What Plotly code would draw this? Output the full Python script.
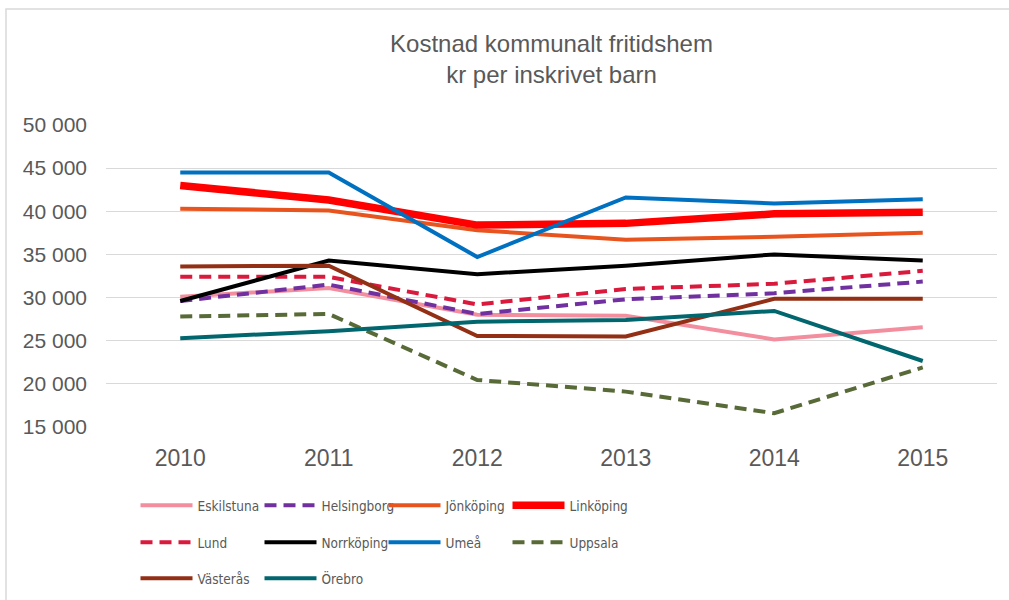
import plotly.graph_objects as go

# data
years = ["2010", "2011", "2012", "2013", "2014", "2015"]

eskilstuna = [30100, 31100, 28000, 27900, 25150, 26550]
helsingborg = [29600, 31500, 28100, 29800, 30500, 31850]
jonkoping = [40300, 40100, 37800, 36700, 37050, 37500]
linkoping = [43000, 41300, 38400, 38600, 39700, 39900]
lund = [32400, 32400, 29200, 31000, 31600, 33100]
norrkoping = [29600, 34300, 32700, 33700, 35000, 34300]
umea = [44500, 44500, 34700, 41600, 40900, 41400]
uppsala = [27800, 28100, 20450, 19100, 16600, 21900]
vasteras = [33600, 33700, 25550, 25500, 29850, 29850]
orebro = [25300, 26100, 27200, 27400, 28450, 22650]

# name, values, colour, width, dash, legend row
series = [
    ("Eskilstuna", eskilstuna, "#F28E9E", 4, "solid", "legend"),
    ("Helsingborg", helsingborg, "#7030A0", 4, "12px,7px", "legend"),
    ("Jönköping", jonkoping, "#E8541E", 4, "solid", "legend"),
    ("Linköping", linkoping, "#FF0000", 7.5, "solid", "legend"),
    ("Lund", lund, "#D91A3D", 4, "12px,7px", "legend2"),
    ("Norrköping", norrkoping, "#000000", 4, "solid", "legend2"),
    ("Umeå", umea, "#0070C0", 4, "solid", "legend2"),
    ("Uppsala", uppsala, "#586A37", 4, "12px,7px", "legend2"),
    ("Västerås", vasteras, "#922F14", 4, "solid", "legend3"),
    ("Örebro", orebro, "#02666E", 4, "solid", "legend3"),
]

FONT = "Liberation Sans, Arial, sans-serif"
NARROW = "Liberation Sans Narrow, DejaVu Sans Condensed, Arial Narrow, sans-serif"
GREY = "#595959"

fig = go.Figure()
for name, vals, color, width, dash, leg in series:
    fig.add_trace(go.Scatter(
        x=years, y=vals, name=name, mode="lines",
        line=dict(color=color, width=width, dash=dash),
        legend=leg, hoverinfo="skip",
    ))

L, R, T, B = 106, 12, 125, 173
W, H = 1009, 600
pw, ph = W - L - R, H - T - B


def px_x(px):
    return (px - L) / pw


def px_y(py):
    return (H - B - py) / ph


legend_common = dict(
    orientation="h", xanchor="left", yanchor="middle",
    entrywidth=57, entrywidthmode="pixels", itemwidth=52,
    font=dict(family=NARROW, size=13.5, color=GREY),
    bgcolor="rgba(0,0,0,0)", traceorder="normal",
    itemclick=False, itemdoubleclick=False,
)

fig.update_layout(
    width=W, height=H,
    margin=dict(l=L, r=R, t=T, b=B, autoexpand=False),
    paper_bgcolor="white", plot_bgcolor="white",
    separators=", ",
    font=dict(family=FONT, color=GREY),
    title=dict(
        text="Kostnad kommunalt fritidshem<br>kr per inskrivet barn",
        x=0.5, xref="paper", xanchor="center",
        y=1 - 52 / H, yanchor="top",
        font=dict(family=FONT, size=24, color=GREY),
    ),
    xaxis=dict(
        type="category", range=[-0.5, 5.5],
        showgrid=False, zeroline=False, showline=False,
        tickfont=dict(family=FONT, size=23, color=GREY),
        ticks="", ticklabelstandoff=15,
    ),
    yaxis=dict(
        range=[15000, 50000], dtick=5000, tickformat=",d",
        showgrid=True, gridcolor="#D9D9D9", gridwidth=1.3,
        zeroline=False, showline=False, ticks="",
        tickfont=dict(family=FONT, size=21, color=GREY),
        ticklabelstandoff=18,
    ),
    legend=dict(x=px_x(135.5), y=px_y(505.5), **legend_common),
    legend2=dict(x=px_x(135.5), y=px_y(542.5), **legend_common),
    legend3=dict(x=px_x(135.5), y=px_y(578.5), **legend_common),
    showlegend=True,
    shapes=[dict(
        type="rect", xref="paper", yref="paper",
        x0=px_x(6), x1=px_x(1015), y0=px_y(610), y1=px_y(9),
        line=dict(color="#D9D9D9", width=1.5), fillcolor="rgba(0,0,0,0)",
        layer="below",
    )],
)

# the page's default body margin would shift the figure by 8px
fig.write_html("out.html", config={"displayModeBar": False},
               post_script="document.body.style.margin='0';")
